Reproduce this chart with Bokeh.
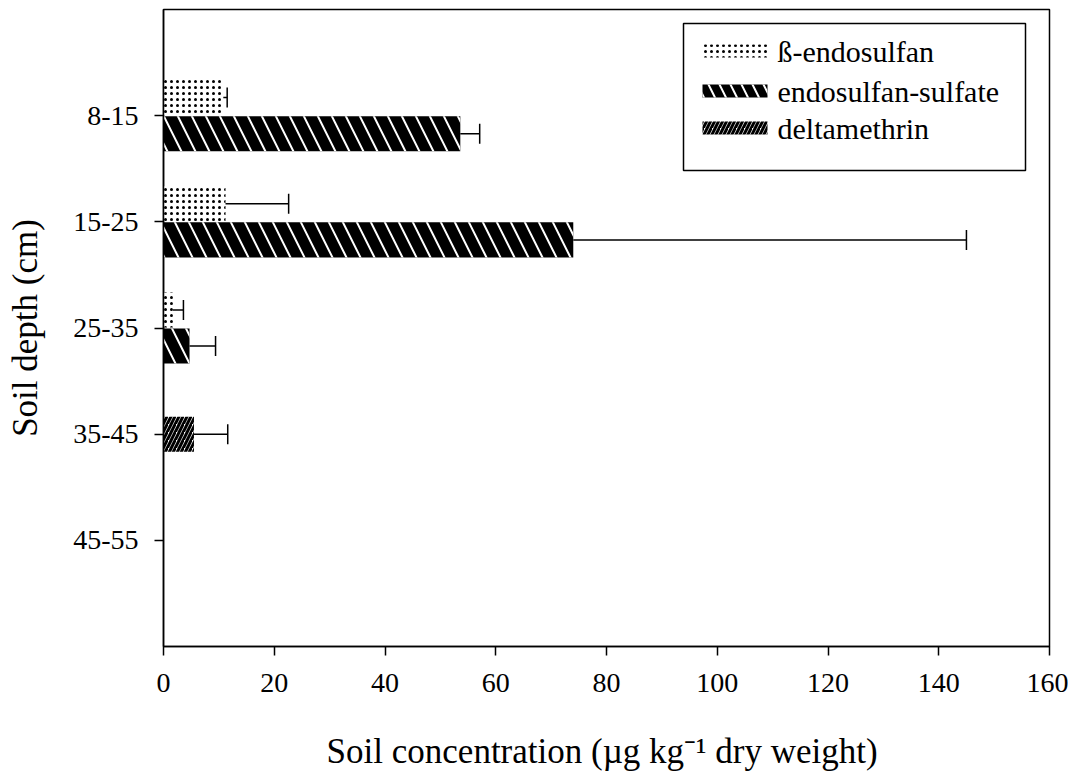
from bokeh.plotting import figure
from bokeh.models import (ColumnDataSource, FactorRange, Range1d, Whisker, TeeHead,
                          BoxAnnotation, Label, FixedTicker)
from bokeh.transform import dodge
from bokeh.embed import file_html
from bokeh.resources import INLINE

# ---- data ----
depths = ["8-15", "15-25", "25-35", "35-45", "45-55"]
beta_vals = [10.8, 11.2, 1.7, 0.0, 0.0]
beta_err = [0.7, 11.4, 1.9, 0.0, 0.0]
sulfate_vals = [53.6, 74.0, 4.7, 0.0, 0.0]
sulfate_err = [3.5, 71.0, 4.7, 0.0, 0.0]
delta_vals = [0.0, 0.0, 0.0, 5.5, 0.0]
delta_err = [0.0, 0.0, 0.0, 6.1, 0.0]
series_names = ["ß-endosulfan", "endosulfan-sulfate", "deltamethrin"]
x_ticks = [0, 20, 40, 60, 80, 100, 120, 140, 160]

FONT = "Liberation Serif"

p = figure(width=1068, height=776,
           y_range=FactorRange(factors=depths[::-1], range_padding=0.5,
                               range_padding_units="absolute"),
           x_range=Range1d(0, 160),
           output_backend="svg", toolbar_location=None,
           min_border_left=163, min_border_right=19,
           min_border_top=9, min_border_bottom=130)

p.background_fill_color = "white"
p.border_fill_color = "white"
p.outline_line_color = "black"
p.outline_line_width = 1.5
p.grid.visible = False


def make_source(vals, errs):
    d, v, u = [], [], []
    for dep, val, err in zip(depths, vals, errs):
        if val > 0:
            d.append(dep)
            v.append(val)
            u.append(val + err)
    return ColumnDataSource(dict(depth=d, val=v, upper=u))


styles = [
    dict(offset=0.17, fill_color="white", hatch_pattern="dot", hatch_color="black",
         hatch_scale=6, hatch_weight=4.5),
    dict(offset=-0.17, fill_color="black", hatch_pattern="left_diagonal_line",
         hatch_color="white", hatch_scale=28, hatch_weight=2),
    dict(offset=0.0, fill_color="white", hatch_pattern="right_diagonal_line",
         hatch_color="black", hatch_scale=8, hatch_weight=3),
]

for (vals, errs), st in zip([(beta_vals, beta_err), (sulfate_vals, sulfate_err),
                             (delta_vals, delta_err)], styles):
    src = make_source(vals, errs)
    off = st["offset"]
    p.hbar(y=dodge("depth", off, range=p.y_range), left=0, right="val",
           height=0.33, source=src, fill_color=st["fill_color"],
           line_color=None, hatch_pattern=st["hatch_pattern"],
           hatch_color=st["hatch_color"], hatch_scale=st["hatch_scale"],
           hatch_weight=st["hatch_weight"])
    w = Whisker(source=src, base=dodge("depth", off, range=p.y_range),
                lower="val", upper="upper", dimension="width",
                line_color="black", line_width=1.5, level="overlay",
                upper_head=TeeHead(size=20, line_width=1.5, line_color="black"),
                lower_head=None)
    p.add_layout(w)

# ---- legend drawn as annotations (screen units, relative to the frame) ----
SU = dict(left_units="screen", right_units="screen", top_units="screen", bottom_units="screen")
p.add_layout(BoxAnnotation(left=520, right=862, bottom=476, top=623,
                           fill_color="white", fill_alpha=1, line_color="black",
                           line_alpha=1, line_width=1.5, **SU))
row_y = [595.5, 555.5, 518.5]
for name, st, yc in zip(series_names, styles, row_y):
    p.add_layout(BoxAnnotation(left=539, right=604, bottom=yc - 6.5, top=yc + 6.5,
                               fill_color=st["fill_color"], fill_alpha=1,
                               line_color=None, hatch_pattern=st["hatch_pattern"],
                               hatch_color=st["hatch_color"], hatch_alpha=1,
                               hatch_scale=min(st["hatch_scale"], 22),
                               hatch_weight=st["hatch_weight"], **SU))
    p.add_layout(Label(x=614, y=yc, x_units="screen", y_units="screen", text=name,
                       text_font=FONT, text_font_size="30px", text_color="black",
                       text_baseline="middle", text_align="left"))

p.xaxis.ticker = FixedTicker(ticks=x_ticks)
p.xaxis.axis_label = "Soil concentration (µg  kg⁻¹ dry weight)"
p.yaxis.axis_label = "Soil depth (cm)"

for ax in (p.xaxis, p.yaxis):
    ax.axis_label_text_font = FONT
    ax.axis_label_text_font_style = "normal"
    ax.axis_label_text_font_size = "35px"
    ax.axis_label_text_color = "black"
    ax.major_label_text_font = FONT
    ax.major_label_text_font_size = "28px"
    ax.major_label_text_color = "black"
    ax.major_tick_out = 9
    ax.major_tick_in = 0
    ax.minor_tick_out = 0
    ax.minor_tick_in = 0
    ax.axis_line_width = 1.5
    ax.major_tick_line_width = 1.5
    ax.axis_line_color = "black"
    ax.major_tick_line_color = "black"

p.xaxis.major_label_standoff = 18
p.xaxis.axis_label_standoff = 37
p.yaxis.major_label_standoff = 16
p.yaxis.axis_label_standoff = 25

open("out.html", "w").write(file_html(p, INLINE))
